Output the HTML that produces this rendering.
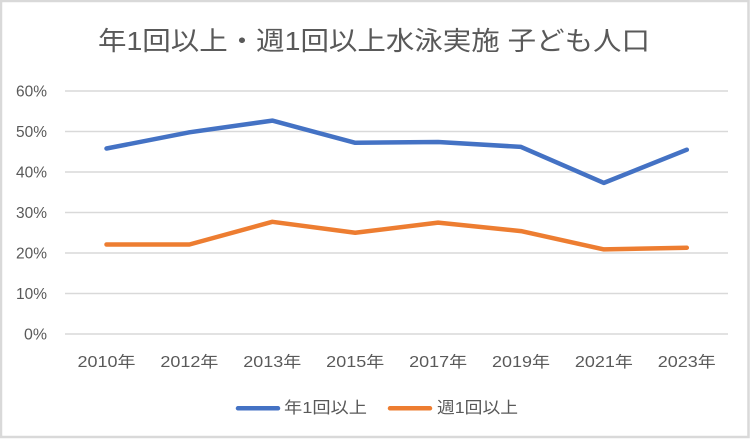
<!DOCTYPE html>
<html><head><meta charset="utf-8"><style>
html,body{margin:0;padding:0;background:#fff;}
svg{display:block;}
text{font-family:"Liberation Sans","Noto Sans CJK JP",sans-serif;fill:#595959;}
</style></head><body>
<svg width="750" height="439" viewBox="0 0 750 439" xmlns="http://www.w3.org/2000/svg">
<rect x="0" y="0" width="750" height="439" fill="#fff"/>
<rect x="1" y="1" width="747.5" height="436" fill="none" stroke="#d9d9d9" stroke-width="2.5"/>
<text x="98" y="50" font-size="26" textLength="552" lengthAdjust="spacingAndGlyphs">年1回以上・週1回以上水泳実施 子ども人口</text>
<g stroke="#d9d9d9" stroke-width="1.5">
<line x1="65" y1="91" x2="728" y2="91"/>
<line x1="65" y1="131.5" x2="728" y2="131.5"/>
<line x1="65" y1="172" x2="728" y2="172"/>
<line x1="65" y1="212.5" x2="728" y2="212.5"/>
<line x1="65" y1="253" x2="728" y2="253"/>
<line x1="65" y1="293.5" x2="728" y2="293.5"/>
<line x1="65" y1="334" x2="728" y2="334"/>
</g>
<g font-size="16">
<text x="16" y="96.5" textLength="31" lengthAdjust="spacingAndGlyphs">60%</text>
<text x="16" y="137" textLength="31" lengthAdjust="spacingAndGlyphs">50%</text>
<text x="16" y="177.5" textLength="31" lengthAdjust="spacingAndGlyphs">40%</text>
<text x="16" y="218" textLength="31" lengthAdjust="spacingAndGlyphs">30%</text>
<text x="16" y="258.5" textLength="31" lengthAdjust="spacingAndGlyphs">20%</text>
<text x="16" y="299" textLength="31" lengthAdjust="spacingAndGlyphs">10%</text>
<text x="24" y="339.5" textLength="23" lengthAdjust="spacingAndGlyphs">0%</text>
</g>
<g font-size="15.5">
<text x="77.5" y="367" textLength="58" lengthAdjust="spacingAndGlyphs">2010年</text>
<text x="160.4" y="367" textLength="58" lengthAdjust="spacingAndGlyphs">2012年</text>
<text x="243.3" y="367" textLength="58" lengthAdjust="spacingAndGlyphs">2013年</text>
<text x="326.2" y="367" textLength="58" lengthAdjust="spacingAndGlyphs">2015年</text>
<text x="409.1" y="367" textLength="58" lengthAdjust="spacingAndGlyphs">2017年</text>
<text x="492" y="367" textLength="58" lengthAdjust="spacingAndGlyphs">2019年</text>
<text x="574.9" y="367" textLength="58" lengthAdjust="spacingAndGlyphs">2021年</text>
<text x="657.8" y="367" textLength="58" lengthAdjust="spacingAndGlyphs">2023年</text>
</g>
<polyline fill="none" stroke="#4472c4" stroke-width="4.5" stroke-linejoin="round" stroke-linecap="round"
points="106.5,148.5 189.4,132.3 272.3,120.6 355.2,142.8 438.1,142.0 521,146.9 603.9,182.9 686.8,149.7"/>
<polyline fill="none" stroke="#ed7d31" stroke-width="4.5" stroke-linejoin="round" stroke-linecap="round"
points="106.5,244.5 189.4,244.5 272.3,221.8 355.2,232.75 438.1,222.6 521,231.1 603.9,249.4 686.8,247.7"/>
<line x1="238" y1="408.3" x2="278" y2="408.3" stroke="#4472c4" stroke-width="4.5" stroke-linecap="round"/>
<text x="284" y="413" font-size="16" textLength="83" lengthAdjust="spacingAndGlyphs">年1回以上</text>
<line x1="390" y1="408.3" x2="430" y2="408.3" stroke="#ed7d31" stroke-width="4.5" stroke-linecap="round"/>
<text x="437" y="413" font-size="16" textLength="81" lengthAdjust="spacingAndGlyphs">週1回以上</text>
</svg>
</body></html>
